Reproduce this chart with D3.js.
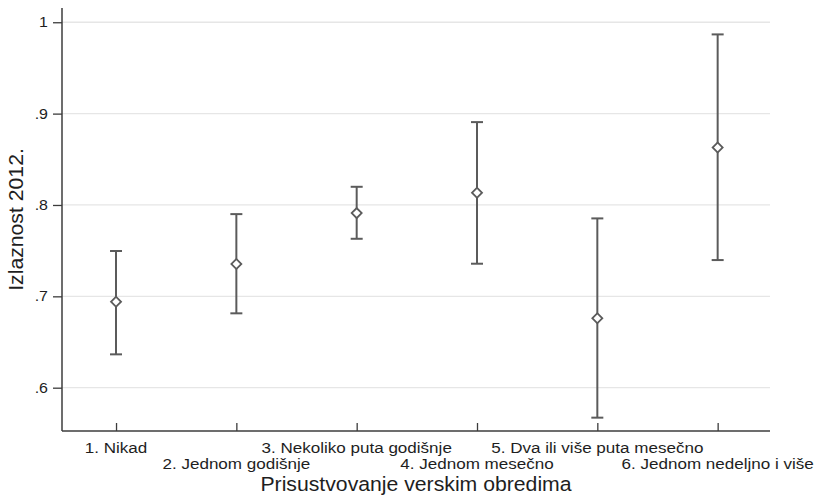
<!DOCTYPE html>
<html>
<head>
<meta charset="utf-8">
<script src="https://cdn.jsdelivr.net/npm/d3@7"></script>
<style>
  html, body { margin: 0; padding: 0; background: #fff; }
  svg { display: block; font-family: "Liberation Sans", Arial, sans-serif; }
</style>
</head>
<body>
<svg id="chart" width="818" height="502"></svg>
<script>
const categories = ["1. Nikad", "2. Jednom godišnje", "3. Nekoliko puta godišnje", "4. Jednom mesečno", "5. Dva ili više puta mesečno", "6. Jednom nedeljno i više"];
const categoryCodes = [1, 2, 3, 4, 5, 6];
const estimates = [0.694, 0.7353, 0.7911, 0.8133, 0.6759, 0.8630];
const lowerCI = [0.6365, 0.6814, 0.7630, 0.7357, 0.5672, 0.7397];
const upperCI = [0.7496, 0.7900, 0.8199, 0.8907, 0.7853, 0.9867];
const yTicks = [0.6, 0.7, 0.8, 0.9, 1];
const yTickLabels = [".6", ".7", ".8", ".9", "1"];
const xTitle = "Prisustvovanje verskim obredima";
const yTitle = "Izlaznost 2012.";

const svg = d3.select("#chart");
const pLeft = 62, pRight = 770, pTop = 8, pBottom = 431;
const stretch = 1.1;

const x = d3.scaleLinear().domain([0.551, 6.435]).range([pLeft, pRight]);
const y = d3.scaleLinear().domain([0.5526, 1.0156]).range([pBottom, pTop]);

const ink = "#5b5b5b";
const axisInk = "#3c3c3c";
const txt = "#1e1e1e";

// gridlines
svg.append("g").selectAll("line").data(yTicks).join("line")
  .attr("x1", pLeft).attr("x2", pRight)
  .attr("y1", d => y(d)).attr("y2", d => y(d))
  .attr("stroke", "#e6e6e6").attr("stroke-width", 1.3);

// y axis
const yAxis = d3.axisLeft(y).tickValues(yTicks).tickFormat("").tickSize(9);
const gy = svg.append("g").attr("transform", `translate(${pLeft},0)`).call(yAxis);
gy.select(".domain").attr("d", `M0,${pTop}V${pBottom}`).attr("stroke", axisInk).attr("stroke-width", 1.5);
gy.selectAll(".tick line").attr("stroke", axisInk).attr("stroke-width", 1.3);

svg.append("g").selectAll("text").data(yTicks).join("text")
  .attr("transform", d => `translate(${pLeft - 14},${y(d)}) scale(${stretch},1)`)
  .attr("dy", "0.35em")
  .attr("text-anchor", "end")
  .attr("font-size", 14.5).attr("fill", txt)
  .text((d, i) => yTickLabels[i]);

// x axis (ticks point inward)
const xAxis = d3.axisBottom(x).tickValues(categoryCodes).tickSizeInner(-8).tickSizeOuter(0).tickFormat("");
const gx = svg.append("g").attr("transform", `translate(0,${pBottom})`).call(xAxis);
gx.select(".domain").attr("d", `M${pLeft},0H${pRight}`).attr("stroke", axisInk).attr("stroke-width", 1.5);
gx.selectAll(".tick line").attr("stroke", axisInk).attr("stroke-width", 1.3);

// x tick labels, alternating rows
svg.append("g").selectAll("text").data(categories).join("text")
  .attr("transform", (d, i) => `translate(${x(categoryCodes[i])},${i % 2 === 0 ? 453 : 469}) scale(${stretch},1)`)
  .attr("text-anchor", "middle")
  .attr("font-size", 15.5).attr("fill", txt)
  .text(d => d);

// axis titles
svg.append("text")
  .attr("transform", `translate(${(pLeft + pRight) / 2},491) scale(${stretch},1)`)
  .attr("text-anchor", "middle").attr("font-size", 19.3).attr("fill", txt).text(xTitle);
svg.append("text")
  .attr("transform", `translate(23,${(pTop + pBottom) / 2}) rotate(-90) scale(${stretch},1)`)
  .attr("text-anchor", "middle").attr("font-size", 19.3).attr("fill", txt).text(yTitle);

// error bars
const capW = 6;
const bars = svg.append("g");
categoryCodes.forEach((c, i) => {
  const cx = x(c);
  bars.append("line").attr("x1", cx).attr("x2", cx)
    .attr("y1", y(lowerCI[i])).attr("y2", y(upperCI[i]))
    .attr("stroke", ink).attr("stroke-width", 2);
  [lowerCI[i], upperCI[i]].forEach(v => {
    bars.append("line").attr("x1", cx - capW).attr("x2", cx + capW)
      .attr("y1", y(v)).attr("y2", y(v))
      .attr("stroke", ink).attr("stroke-width", 2);
  });
});

// diamond markers
svg.append("g").selectAll("path").data(estimates).join("path")
  .attr("transform", (d, i) => `translate(${x(categoryCodes[i])},${y(d)}) rotate(45)`)
  .attr("d", d3.symbol().type(d3.symbolSquare).size(50))
  .attr("fill", "white").attr("stroke", ink).attr("stroke-width", 1.8);
</script>
</body>
</html>
